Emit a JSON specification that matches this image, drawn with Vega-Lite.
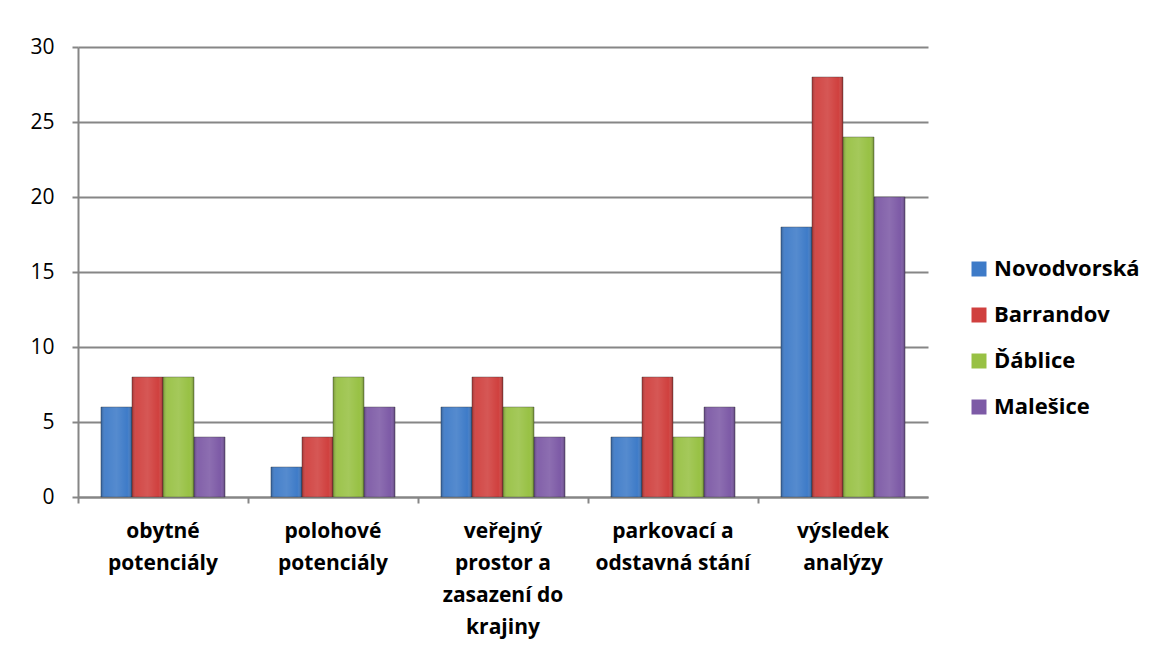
{
  "$schema": "https://vega.github.io/schema/vega-lite/v6.json",
  "width": 850,
  "height": 450,
  "autosize": {"type": "none"},
  "padding": {"left": 78, "top": 47, "right": 225, "bottom": 158},
  "background": "white",
  "config": {
    "font": "Open Sans",
    "view": {"stroke": null},
    "axis": {"labelFont": "Open Sans", "labelColor": "black"},
    "legend": {"labelFont": "Open Sans"}
  },
  "data": {
    "values": [
      {"kat": "obytné|potenciály", "lok": "Novodvorská", "v": 6},
      {"kat": "obytné|potenciály", "lok": "Barrandov", "v": 8},
      {"kat": "obytné|potenciály", "lok": "Ďáblice", "v": 8},
      {"kat": "obytné|potenciály", "lok": "Malešice", "v": 4},
      {"kat": "polohové|potenciály", "lok": "Novodvorská", "v": 2},
      {"kat": "polohové|potenciály", "lok": "Barrandov", "v": 4},
      {"kat": "polohové|potenciály", "lok": "Ďáblice", "v": 8},
      {"kat": "polohové|potenciály", "lok": "Malešice", "v": 6},
      {"kat": "veřejný|prostor a|zasazení do|krajiny", "lok": "Novodvorská", "v": 6},
      {"kat": "veřejný|prostor a|zasazení do|krajiny", "lok": "Barrandov", "v": 8},
      {"kat": "veřejný|prostor a|zasazení do|krajiny", "lok": "Ďáblice", "v": 6},
      {"kat": "veřejný|prostor a|zasazení do|krajiny", "lok": "Malešice", "v": 4},
      {"kat": "parkovací a|odstavná stání", "lok": "Novodvorská", "v": 4},
      {"kat": "parkovací a|odstavná stání", "lok": "Barrandov", "v": 8},
      {"kat": "parkovací a|odstavná stání", "lok": "Ďáblice", "v": 4},
      {"kat": "parkovací a|odstavná stání", "lok": "Malešice", "v": 6},
      {"kat": "výsledek|analýzy", "lok": "Novodvorská", "v": 18},
      {"kat": "výsledek|analýzy", "lok": "Barrandov", "v": 28},
      {"kat": "výsledek|analýzy", "lok": "Ďáblice", "v": 24},
      {"kat": "výsledek|analýzy", "lok": "Malešice", "v": 20}
    ]
  },
  "encoding": {
    "x": {
      "field": "kat",
      "type": "nominal",
      "sort": null,
      "scale": {"paddingInner": 0, "paddingOuter": 0},
      "axis": {
        "title": null,
        "labelAngle": 0,
        "labelExpr": "split(datum.label, '|')",
        "labelFontSize": 21,
        "labelFontWeight": "bold",
        "labelLineHeight": 32,
        "labelPadding": 17,
        "labelBaseline": "top",
        "bandPosition": 0,
        "tickSize": 6,
        "tickColor": "#868686",
        "tickWidth": 2,
        "domainColor": "#868686",
        "domainWidth": 2
      }
    },
    "xOffset": {
      "field": "lok",
      "type": "nominal",
      "sort": ["Novodvorská", "Barrandov", "Ďáblice", "Malešice"],
      "scale": {"paddingInner": 0, "paddingOuter": 0.74}
    },
    "y": {
      "field": "v",
      "type": "quantitative",
      "scale": {"domain": [0, 30], "nice": false},
      "axis": {
        "title": null,
        "values": [0, 5, 10, 15, 20, 25, 30],
        "labelFontSize": 21,
        "labelPadding": 18,
        "tickSize": 6,
        "tickColor": "#868686",
        "tickWidth": 2,
        "gridColor": "#868686",
        "gridWidth": 2,
        "domainColor": "#868686",
        "domainWidth": 2
      }
    }
  },
  "layer": [
    {
      "mark": {"type": "bar", "stroke": "#2a2a2a", "strokeWidth": 0.6, "strokeOpacity": 0.6},
      "encoding": {
        "color": {
          "field": "lok",
          "type": "nominal",
          "scale": {
            "domain": ["Novodvorská", "Barrandov", "Ďáblice", "Malešice"],
            "range": ["#3E7BC8", "#D0403E", "#98C144", "#7D5AA6"]
          },
          "legend": {
            "title": null,
            "orient": "none",
            "legendX": 890,
            "legendY": 211,
            "symbolType": "square",
            "symbolSize": 225,
            "symbolStrokeWidth": 0,
            "symbolOpacity": 1,
            "labelFontSize": 22,
            "labelFontWeight": "bold",
            "labelColor": "black",
            "labelOffset": 4,
            "rowPadding": 24
          }
        }
      }
    },
    {
      "mark": {
        "type": "bar",
        "fill": {
          "gradient": "linear",
          "x1": 0, "y1": 0, "x2": 1, "y2": 0,
          "stops": [
            {"offset": 0, "color": "rgba(0,0,0,0.25)"},
            {"offset": 0.15, "color": "rgba(255,255,255,0.05)"},
            {"offset": 0.5, "color": "rgba(255,255,255,0.12)"},
            {"offset": 0.85, "color": "rgba(255,255,255,0.0)"},
            {"offset": 1, "color": "rgba(0,0,0,0.3)"}
          ]
        }
      }
    }
  ]
}
